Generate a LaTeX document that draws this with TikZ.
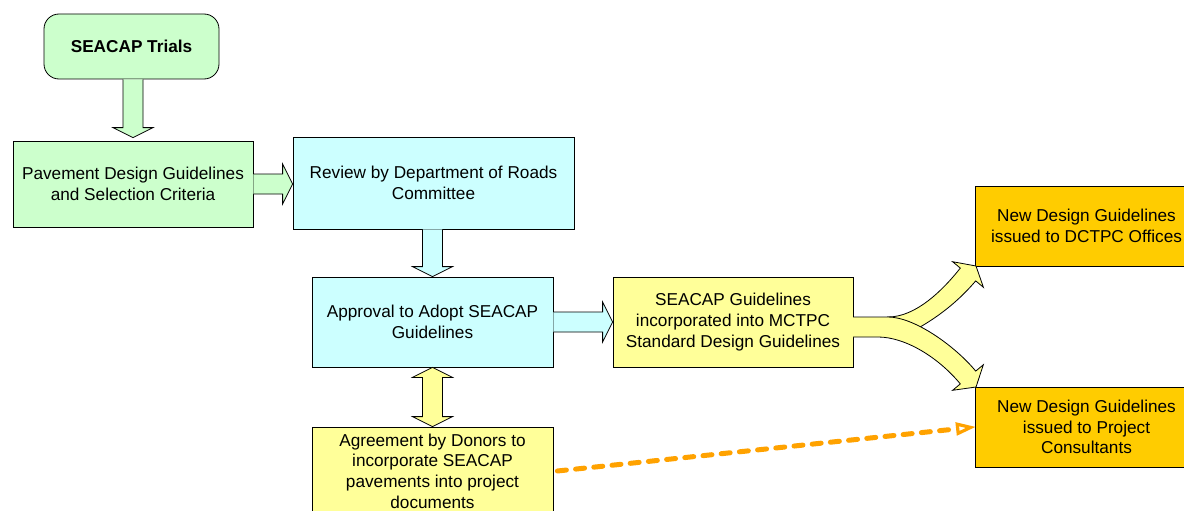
\documentclass[tikz,border=0pt]{standalone}
\usepackage{fontspec}
\setmainfont{Liberation Sans}
\usetikzlibrary{calc,arrows.meta}
\definecolor{lgreen}{HTML}{CCFFCC}
\definecolor{lcyan}{HTML}{CCFFFF}
\definecolor{lyellow}{HTML}{FFFF99}
\definecolor{gold}{HTML}{FFCC00}
\definecolor{dashorange}{HTML}{FFA200}
\tikzset{
  box/.style={draw=black, line width=0.8pt, rectangle, align=center, inner sep=0pt,
    font=\fontsize{17.2}{20.7}\selectfont},
  blockarrow/.style={draw=black, line width=0.8pt, line join=miter},
  orangedash/.style={draw=dashorange, line width=5pt, line cap=round,
    dash pattern=on 9pt off 9.3pt},
  orangehead/.style={draw=dashorange, line width=3.2pt, line join=miter, fill=white},
}
\newcommand\vblock[4]{%
  \draw[blockarrow, fill=#3] let \p1=(#1), \p2=(#2) in
    (\x2-10pt,\y1) -- (\x2-10pt,\y2+10pt+#4) -- (\x2-20pt,\y2+10pt+#4) -- (\x2,\y2+#4)
    -- (\x2+20pt,\y2+10pt+#4) -- (\x2+10pt,\y2+10pt+#4) -- (\x2+10pt,\y1);}
\newcommand\hblock[3]{%
  \draw[blockarrow, fill=#3] let \p1=(#1), \p2=(#2) in
    (\x1,\y1+10pt) -- (\x2-10pt,\y1+10pt) -- (\x2-10pt,\y1+20pt) -- (\x2,\y1)
    -- (\x2-10pt,\y1-20pt) -- (\x2-10pt,\y1-10pt) -- (\x1,\y1-10pt);}
\newcommand\dblock[3]{%
  \draw[blockarrow, fill=#3] let \p1=(#1), \p2=(#2) in
    (\x1-10pt,\y1-10pt) -- (\x1-20pt,\y1-10pt) -- (\x1,\y1) -- (\x1+20pt,\y1-10pt)
    -- (\x1+10pt,\y1-10pt) -- (\x1+10pt,\y2+10pt) -- (\x1+20pt,\y2+10pt) -- (\x1,\y2)
    -- (\x1-20pt,\y2+10pt) -- (\x1-10pt,\y2+10pt) -- cycle;}
\begin{document}
\begin{tikzpicture}[x=1pt, y=-1pt]
\useasboundingbox (0,0) rectangle (1184,511);
\fill[white] (0,0) rectangle (1184,511);
\clip (0,0) rectangle (1184,511);

% nodes
\node[box, fill=lgreen, rounded corners=15pt, minimum width=175pt, minimum height=65pt,
  font=\fontsize{17.2}{20.7}\selectfont\bfseries] (trials) at (131.5,46.5) {SEACAP Trials};
\node[box, fill=lgreen, minimum width=240pt, minimum height=86pt] (pavement) at (133,184)
  {Pavement Design Guidelines\\and Selection Criteria};
\node[box, fill=lcyan, minimum width=281pt, minimum height=92pt] (review) at (433.5,183)
  {Review by Department of Roads\\Committee};
\node[box, fill=lcyan, minimum width=241pt, minimum height=90pt] (approval) at (432.5,322)
  {Approval to Adopt SEACAP\\Guidelines};
\node[box, fill=lyellow, minimum width=240pt, minimum height=90pt] (seacapg) at (733,322)
  {SEACAP Guidelines\\incorporated into MCTPC\\Standard Design Guidelines};
\node[box, fill=lyellow, minimum width=241pt, minimum height=88pt] (agreement) at (432.5,471)
  {Agreement by Donors to\\incorporate SEACAP\\pavements into project\\documents};
\node[box, fill=gold, minimum width=223pt, minimum height=80pt] (dctpc) at (1086.5,226)
  {New Design Guidelines\\issued to DCTPC Offices};
\node[box, fill=gold, minimum width=223pt, minimum height=80pt] (project) at (1086.5,427)
  {New Design Guidelines\\issued to Project\\Consultants};

% block arrows
\vblock{trials.south}{pavement.north}{lgreen}{3pt}
\hblock{pavement.east}{review.west}{lgreen}
\vblock{review.south}{approval.north}{lcyan}{0pt}
\hblock{approval.east}{seacapg.west}{lcyan}
\dblock{approval.south}{agreement.north}{lyellow}

% forked arrow
\draw[blockarrow, fill=lyellow] (888,317) .. controls (916,317) and (943,290) .. (960.3,268.1)
  -- (952.6,261.7) -- (976,266) -- (983.4,287.3) -- (975.7,280.9)
  .. controls (962,297) and (940,318) .. (905,335) -- cycle;
\draw[blockarrow, fill=lyellow] (853,317) -- (888,317)
  .. controls (915,317) and (956,347) .. (975.7,371.1)
  -- (983.4,364.7) -- (976,387) -- (952.6,390.3) -- (960.3,383.9)
  .. controls (938,357) and (905,337) .. (878,337) -- (853,337);

% dashed connector with open head
\coordinate (dstart) at ($(agreement.east)+(4,0)$);
\coordinate (dtip) at ($(project.west)!4pt!(dstart)$);
\coordinate (dback) at ($(project.west)!17pt!(dstart)$);
\draw[orangedash] (dstart) -- (dback);
\draw[orangehead] (dtip) -- ($(dback)!4.6pt!90:(dtip)$) -- ($(dback)!4.6pt!-90:(dtip)$) -- cycle;
\end{tikzpicture}
\end{document}
